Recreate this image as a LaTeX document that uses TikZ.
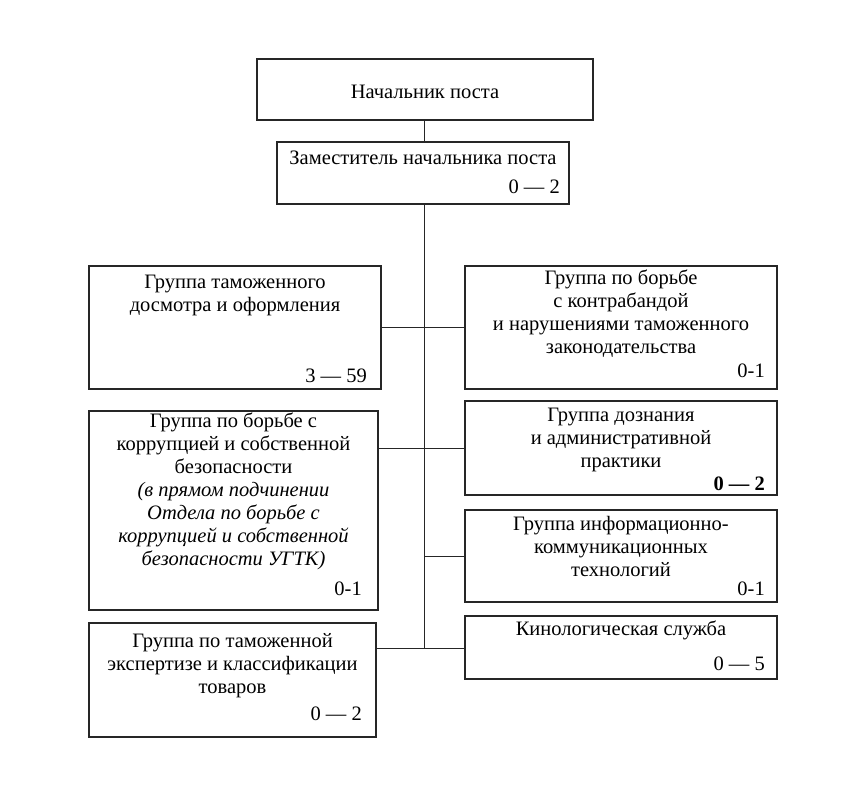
\documentclass[tikz,border=0pt]{standalone}
\usepackage{fontspec}
\setmainfont{Liberation Serif}
\begin{document}
\begin{tikzpicture}[x=1pt,y=-1pt,
  box/.style={draw=black!85,line width=1.1pt,rectangle,inner sep=0pt},
  ttl/.style={align=center,inner sep=0pt,font=\fontsize{20.5}{23}\selectfont},
  num/.style={anchor=base east,inner sep=0pt,font=\fontsize{20.5}{23}\selectfont},
  conn/.style={draw=black!85,line width=0.9pt}]
\useasboundingbox (0,0) rectangle (868,793);
% boxes
\node[box,minimum width=336pt,minimum height=61pt] (top) at (425,89.5) {};
\node[box,minimum width=292pt,minimum height=62pt] (zam) at (423,173) {};
\node[box,minimum width=292pt,minimum height=123pt] (A) at (235,327.5) {};
\node[box,minimum width=312pt,minimum height=123pt] (B) at (621,327.5) {};
\node[box,minimum width=289pt,minimum height=199pt] (C) at (233.5,510.5) {};
\node[box,minimum width=312pt,minimum height=94pt] (D) at (621,448) {};
\node[box,minimum width=312pt,minimum height=92pt] (E) at (621,556) {};
\node[box,minimum width=287pt,minimum height=114pt] (F) at (232.5,680) {};
\node[box,minimum width=312pt,minimum height=63pt] (G) at (621,647.5) {};
% texts
\node[ttl] (tTop) at (425,92) {Начальник поста};
\node[ttl] (tZam) at (423,158) {Заместитель начальника поста};
\node[num] (nZam) at (560,193) {0 — 2};
\node[ttl] (tA) at (235,295) {Группа таможенного\\досмотра и оформления};
\node[num] (nA) at (367,382) {3 — 59};
\node[ttl] (tB) at (621,313.5) {Группа по борьбе\\с контрабандой\\и нарушениями таможенного\\законодательства};
\node[num] (nB) at (765,377) {0-1};
\node[ttl] (tC) at (233.5,491.5) {Группа по борьбе с\\коррупцией и собственной\\безопасности\\\itshape (в прямом подчинении\\\itshape Отдела по борьбе с\\\itshape коррупцией и собственной\\\itshape безопасности УГТК)};
\node[num] (nC) at (362,595) {0-1};
\node[ttl] (tD) at (621,440) {Группа дознания\\и административной\\практики};
\node[num,font=\fontsize{20.5}{23}\selectfont\bfseries] (nD) at (765,490) {0 — 2};
\node[ttl] (tE) at (621,546) {Группа информационно-\\коммуникационных\\технологий};
\node[num] (nE) at (765,595) {0-1};
\node[ttl] (tF) at (232.5,665.5) {Группа по таможенной\\экспертизе и классификации\\товаров};
\node[num] (nF) at (362,720) {0 — 2};
\node[ttl] (tG) at (621,630.5) {Кинологическая служба};
\node[num] (nG) at (765,670) {0 — 5};
% connectors
\coordinate (trunkEnd) at (424,648);
\draw[conn] (top.south -| trunkEnd) -- (zam.north -| trunkEnd);
\draw[conn] (zam.south -| trunkEnd) -- (trunkEnd);
\draw[conn] (A) -- (B);
\draw[conn] (C.east |- D.west) -- (D.west);
\draw[conn] (trunkEnd |- E.west) -- (E.west);
\draw[conn] (F.east |- trunkEnd) -- (G.west |- trunkEnd);
\end{tikzpicture}
\end{document}
